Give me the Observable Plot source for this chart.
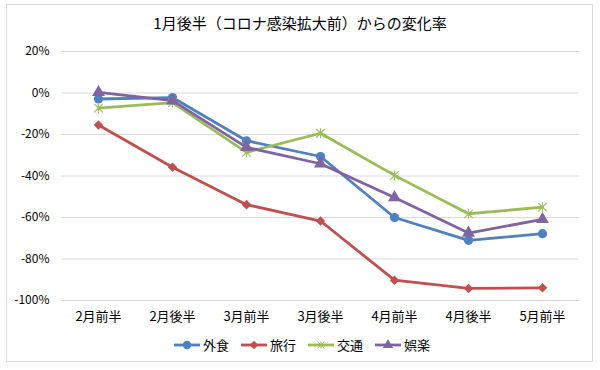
<!DOCTYPE html>
<html>
<head>
<meta charset="utf-8">
<script src="https://cdn.jsdelivr.net/npm/d3@7"></script>
<script src="https://cdn.jsdelivr.net/npm/@observablehq/plot@0.6"></script>
<style>
  html, body { margin: 0; padding: 0; background: #fff; }
  #wrap { position: relative; width: 600px; height: 370px; font-family: "Noto Sans CJK JP", "Noto Sans", sans-serif; }
  #border { position: absolute; left: 6px; top: 4px; width: 587px; height: 358px; border: 1px solid #d9d9d9; box-sizing: border-box; }
  #title { position: absolute; left: 0; width: 600px; top: 12px; text-align: center; font-size: 15px; color: #000; }
  #chart { position: absolute; left: 0; top: 0; }
  #legend { position: absolute; left: 0; top: 333px; }
</style>
</head>
<body>
<div id="wrap">
  <div id="border"></div>
  <div id="chart"></div>
  <div id="title">1月後半（コロナ感染拡大前）からの変化率</div>
  <svg id="legend" width="600" height="26"></svg>
</div>
<script>
const categories = ["2月前半", "2月後半", "3月前半", "3月後半", "4月前半", "4月後半", "5月前半"];
const seriesNames = ["外食", "旅行", "交通", "娯楽"];
const gaishoku = [-2.9, -2.2, -23.0, -30.6, -60.0, -71.0, -67.8];
const ryokou   = [-15.4, -35.8, -53.8, -61.7, -90.2, -94.2, -93.9];
const koutsuu  = [-7.3, -4.6, -28.6, -19.4, -39.7, -58.2, -55.0];
const goraku   = [0.3, -3.7, -26.2, -34.1, -50.4, -67.5, -60.9];
const yTicks = [20, 0, -20, -40, -60, -80, -100];
const colors = ["#4F81BD", "#C0504D", "#9BBB59", "#8064A2"];

// Excel-like star marker: an X with a vertical bar
const starSymbol = {
  draw(context, size) {
    const r = Math.sqrt(size / Math.PI);
    const a = r * 0.85;
    context.moveTo(-a, -a); context.lineTo(a, a);
    context.moveTo(-a, a); context.lineTo(a, -a);
    context.moveTo(0, -r); context.lineTo(0, r);
  }
};
const symbols = ["circle", "diamond2", starSymbol, "triangle"];

const seriesValues = [gaishoku, ryokou, koutsuu, goraku];
const rows = [];
seriesNames.forEach((s, i) => {
  categories.forEach((c, j) => rows.push({series: s, cat: c, value: seriesValues[i][j]}));
});

const marks = [
  Plot.gridY(yTicks, {stroke: "#d9d9d9", strokeOpacity: 1, strokeWidth: 1})
];
seriesNames.forEach((s, i) => {
  const data = rows.filter(d => d.series === s);
  marks.push(Plot.line(data, {x: "cat", y: "value", stroke: colors[i], strokeWidth: 2.8, strokeLinejoin: "round", strokeLinecap: "round"}));
});
seriesNames.forEach((s, i) => {
  const data = rows.filter(d => d.series === s);
  const sym = symbols[i];
  if (sym === starSymbol) {
    marks.push(Plot.dot(data, {x: "cat", y: "value", symbol: sym, r: 5, stroke: colors[i], strokeWidth: 1.1, fill: "none"}));
  } else {
    const r = sym === "circle" ? 4.6 : (sym === "triangle" ? 4.8 : 4.3);
    marks.push(Plot.dot(data, {x: "cat", y: "value", symbol: sym, r, fill: colors[i], stroke: "none"}));
  }
});

const chart = Plot.plot({
  width: 600,
  height: 370,
  marginTop: 51,
  marginBottom: 70,
  marginLeft: 61,
  marginRight: 21,
  style: {fontFamily: '"Noto Sans CJK JP", "Noto Sans", sans-serif', fontSize: "12px", color: "#000", background: "transparent"},
  x: {type: "point", domain: categories, padding: 0.5, label: null, tickSize: 0, tickPadding: 11},
  y: {domain: [-100, 20], ticks: yTicks, tickFormat: d => `${d}%`, label: null, tickSize: 0, tickPadding: 12},
  marks
});
d3.select(chart).selectAll("g[aria-label='x-axis tick label'] text").attr("font-size", 13);
document.getElementById("chart").appendChild(chart);

// legend
const lg = d3.select("#legend");
const starts = [174, 241, 308, 375];
seriesNames.forEach((s, i) => {
  const x0 = starts[i];
  const g = lg.append("g");
  g.append("line").attr("x1", x0).attr("x2", x0 + 26).attr("y1", 12).attr("y2", 12)
    .attr("stroke", colors[i]).attr("stroke-width", 2.8);
  const symMap = {circle: d3.symbolCircle, diamond2: d3.symbolDiamond2, triangle: d3.symbolTriangle};
  const sym = symbols[i];
  const symType = typeof sym === "string" ? symMap[sym] : sym;
  const size = sym === "circle" ? Math.PI * 4.2 * 4.2 : 45;
  const p = g.append("path").attr("d", d3.symbol(symType, size)()).attr("transform", `translate(${x0 + 13},12)`);
  if (sym === starSymbol) p.attr("fill", "none").attr("stroke", colors[i]).attr("stroke-width", 1);
  else p.attr("fill", colors[i]);
  g.append("text").attr("x", x0 + 29).attr("y", 12).attr("dy", "0.35em")
    .attr("font-size", 13).attr("fill", "#000")
    .attr("font-family", '"Noto Sans CJK JP", "Noto Sans", sans-serif').text(s);
});
</script>
</body>
</html>
